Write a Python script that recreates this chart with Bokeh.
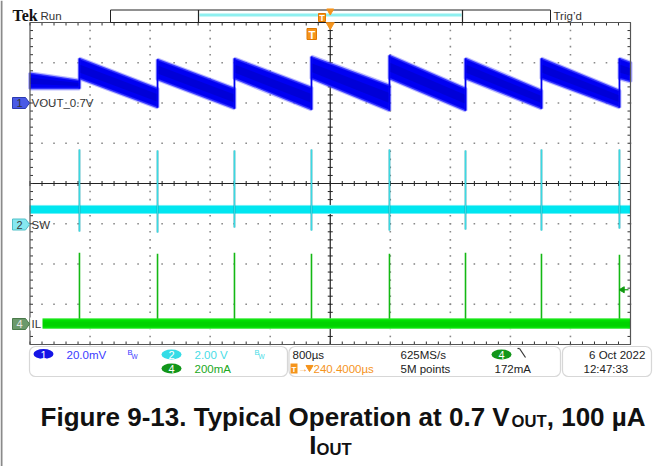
import numpy as np
from bokeh.plotting import figure
from bokeh.models import Range1d, BoxAnnotation
from bokeh.core.properties import value
from bokeh.embed import file_html
from bokeh.resources import INLINE

# ---------------- scope settings ----------------
ms_per_div = 0.8            # 800 us/div
n_xdiv, n_ydiv = 10, 8
ch1_mv_per_div, ch1_pos_div = 20.0, 6.0     # VOUT, AC view around 0.7 V
ch2_v_per_div, ch2_pos_div = 2.0, 3.0       # SW node
ch4_ma_per_div, ch4_pos_div = 200.0, 0.5    # inductor current

# ---------------- waveform readings ----------------
# instants of the switching bursts (ms from the left edge of the screen)
switch_ms = [0.659, 1.699, 2.724, 3.750, 4.789, 5.802, 6.814, 7.853]

# VOUT ripple band per ramp (mV around the 0.7 V offset), ramp i runs between bursts
vout_top_start_mv = [14.8, 22.1, 21.6, 22.1, 23.0, 23.6, 22.1, 22.1, 22.1]
vout_top_end_mv = [11.2, 7.2, 7.2, 7.7, 8.7, 7.2, 6.2, 6.2, 20.1]
vout_bot_start_mv = [7.2, 12.2, 11.7, 12.2, 12.2, 12.2, 12.2, 12.2, 12.2]
vout_bot_end_mv = [7.2, -2.2, -2.7, -3.2, -3.7, -3.7, -2.7, -2.2, 10.7]

# SW node: idle noise band and burst excursions (V)
sw_idle_v = [0.51, 0.91]
sw_peak_v = [3.69, 3.64, 3.64, 3.69, 3.69, 3.64, 3.69, 3.69]
sw_min_v = [-0.39, -0.44, -0.19, -0.34, -0.34, -0.29, -0.34, -0.24]

# inductor current: idle noise band and burst peaks (mA)
il_idle_ma = [-20.0, 28.0]
il_peak_ma = [356, 351, 356, 351, 351, 356, 351, 346]
trigger_level_ma = 172

# ---------------- screen geometry ----------------
W, H = 658, 466
gx0, gx1, gy0, gy1 = 29.5, 630.0, 22.0, 344.0
px_per_ms = (gx1 - gx0) / (n_xdiv * ms_per_div)
px_per_div = (gy1 - gy0) / n_ydiv
x_start, x_end = -gx0 / px_per_ms, (W - gx0) / px_per_ms
y_start, y_end = -(H - gy1) / px_per_div, n_ydiv + gy0 / px_per_div
t_end = n_xdiv * ms_per_div


def X(px):
    return (px - gx0) / px_per_ms


def Y(py):
    return (gy1 - py) / px_per_div


def DX(px):
    return px / px_per_ms


def DY(px):
    return px / px_per_div


p = figure(width=W, height=H, x_range=Range1d(x_start, x_end), y_range=Range1d(y_start, y_end),
           output_backend="svg", toolbar_location=None, x_axis_type=None, y_axis_type=None,
           min_border=0, outline_line_color=None, background_fill_color="white",
           border_fill_color="white")
p.grid.visible = False


def chan_range(pos, per):
    return Range1d((y_start - pos) * per, (y_end - pos) * per)


p.extra_y_ranges = {
    "ch1": chan_range(ch1_pos_div, ch1_mv_per_div),
    "ch2": chan_range(ch2_pos_div, ch2_v_per_div),
    "ch4": chan_range(ch4_pos_div, ch4_ma_per_div),
}

FONT = "Liberation Sans"


def label(px, py, s, size=11.5, color="#333333", align="left", font=FONT, style="normal",
          baseline="middle"):
    p.text(x=[X(px)], y=[Y(py)], text=[s], text_font=value(font), text_font_size=f"{size}px",
           text_color=color, text_align=align, text_baseline=baseline, text_font_style=style)


# left edge strip of the capture
p.segment(x0=[X(1)], y0=[Y(0)], x1=[X(1)], y1=[Y(H)], color="#8a8a8a", line_width=2)

# ---------------- graticule ----------------
dot_x, dot_y = [], []
for i in range(1, n_xdiv):
    if i == n_xdiv // 2:
        continue
    ys = np.arange(0, n_ydiv + 1e-6, 0.2)
    dot_x += [i * ms_per_div] * len(ys)
    dot_y += list(ys)
for j in range(1, n_ydiv):
    if j == n_ydiv // 2:
        continue
    xs = np.arange(0, t_end + 1e-6, ms_per_div / 5)
    dot_x += list(xs)
    dot_y += [j] * len(xs)
p.scatter(dot_x, dot_y, marker="square", size=1.6, color="#8a8a8a", line_color=None)

# centre cross
p.segment(x0=[0, t_end / 2], y0=[n_ydiv / 2, 0], x1=[t_end, t_end / 2], y1=[n_ydiv / 2, n_ydiv],
          color="#222222", line_width=1.2)
tx = np.arange(0, t_end + 1e-6, ms_per_div / 5)
ty = np.arange(0, n_ydiv + 1e-6, 0.2)
p.segment(x0=tx, y0=n_ydiv / 2 - DY(2.5), x1=tx, y1=n_ydiv / 2 + DY(2.5), color="#222222", line_width=1)
p.segment(x0=t_end / 2 - DX(2.5), y0=ty, x1=t_end / 2 + DX(2.5), y1=ty, color="#222222", line_width=1)
# edge ticks
p.segment(x0=tx, y0=n_ydiv, x1=tx, y1=n_ydiv - DY(3), color="#333333", line_width=1)
p.segment(x0=tx, y0=0, x1=tx, y1=DY(3), color="#333333", line_width=1)
p.segment(x0=0, y0=ty, x1=DX(3), y1=ty, color="#333333", line_width=1)
p.segment(x0=t_end, y0=ty, x1=t_end - DX(3), y1=ty, color="#333333", line_width=1)

# ---------------- CH2: SW ----------------
p.quad(left=[0], right=[t_end], bottom=[sw_idle_v[0]], top=[sw_idle_v[1]], y_range_name="ch2",
       fill_color="#00e6f0", line_color="#6ff0f6", line_width=1)
p.segment(x0=switch_ms, y0=sw_min_v, x1=switch_ms, y1=sw_peak_v, y_range_name="ch2",
          color="#22a8b6", line_width=1.8)
p.segment(x0=switch_ms, y0=sw_min_v, x1=switch_ms, y1=sw_peak_v, y_range_name="ch2",
          color="#40e8f0", line_width=0.8)

# ---------------- CH4: IL ----------------
p.quad(left=[0], right=[t_end], bottom=[il_idle_ma[0]], top=[il_idle_ma[1]], y_range_name="ch4",
       fill_color="#00e000", line_color="#55ee55", line_width=1)
p.quad(left=[0], right=[t_end], bottom=[il_idle_ma[0] * 0.5], top=[il_idle_ma[1] * 0.5],
       y_range_name="ch4", fill_color="#00c400", fill_alpha=0.5, line_color=None)
p.segment(x0=switch_ms, y0=il_idle_ma[1], x1=switch_ms, y1=il_peak_ma, y_range_name="ch4",
          color="#14b814", line_width=1.6)

# ---------------- CH1: VOUT ----------------
seg_t0 = [0.0] + switch_ms
seg_t1 = switch_ms + [t_end]
band_x = [[a, b, b, a] for a, b in zip(seg_t0, seg_t1)]
band_y = [[ts, te, be, bs] for ts, te, be, bs in
          zip(vout_top_start_mv, vout_top_end_mv, vout_bot_end_mv, vout_bot_start_mv)]
core_y = [[ts + 0.3 * (bs - ts), te + 0.3 * (be - te), be - 0.3 * (be - te), bs - 0.3 * (bs - ts)]
          for ts, te, be, bs in zip(vout_top_start_mv, vout_top_end_mv, vout_bot_end_mv, vout_bot_start_mv)]
# fuzzy halo of the noisy trace, then the band itself and its denser core
p.patches(band_x, band_y, y_range_name="ch1", fill_color=None, line_color="#6a6aff",
          line_width=4, line_alpha=0.45)
p.patches(band_x, band_y, y_range_name="ch1", fill_color="#0000f2", line_color="#3030ff",
          line_width=1.5, line_alpha=0.9)
p.patches(band_x, core_y, y_range_name="ch1", fill_color="#00009a", fill_alpha=0.3, line_color=None)
p.segment(x0=switch_ms, y0=vout_bot_end_mv[:-1], x1=switch_ms, y1=vout_top_start_mv[1:],
          y_range_name="ch1", color="#0000f2", line_width=1.8)

# graticule frame
p.quad(left=[0], right=[t_end], bottom=[0], top=[n_ydiv], fill_color=None, line_color="#555555",
       line_width=1.2)

# trigger level marker (IL)
p.segment(x0=[X(621)], y0=[trigger_level_ma], x1=[X(628)], y1=[trigger_level_ma], y_range_name="ch4",
          color="#109a10", line_width=1.2)
p.scatter(x=[X(622)], y=[trigger_level_ma], y_range_name="ch4", marker="triangle", angle=np.pi / 2,
          size=6, color="#109a10")


# ---------------- channel tags and names ----------------
def tag(py, fill, edge, txt, txt_color):
    xs = [X(12), X(25), X(29), X(25), X(12)]
    ys = [Y(py - 5.5), Y(py - 5.5), Y(py), Y(py + 5.5), Y(py + 5.5)]
    p.patch(xs, ys, fill_color=fill, line_color=edge, line_width=1)
    label(19, py, txt, size=11, color=txt_color, align="center")


tag(102.5, "#4a5ae6", "#2a3ab0", "1", "#333333")
tag(224, "#86e8f0", "#50c0c8", "2", "#3a3a3a")
tag(323.5, "#6b9a6b", "#4a7a4a", "4", "#e8e8e8")
label(31, 102.5, "VOUT_0.7V", size=11.5, color="#333333")
label(31, 224, "SW", size=11.5, color="#333333")
p.quad(left=[X(29.6)], right=[X(42)], bottom=[Y(330)], top=[Y(317)], fill_color="white", line_color=None)
label(31, 323.5, "IL", size=11.5, color="#333333")

# ---------------- header ----------------
label(12, 15, "Tek", size=16, color="#111111", font="Liberation Serif", style="bold")
label(40, 15, "Run", size=11.5, color="#333333")
p.quad(left=[X(110)], right=[X(550)], bottom=[Y(22)], top=[Y(9.5)], fill_color="white",
       line_color="#222222", line_width=1)
p.segment(x0=[X(199)], y0=[Y(14.5)], x1=[X(461)], y1=[Y(14.5)], color="#8ef0f0", line_width=3)
p.segment(x0=[X(198), X(462)], y0=[Y(9.5)] * 2, x1=[X(198), X(462)], y1=[Y(22)] * 2,
          color="#222222", line_width=1.2)
label(553, 15, "Trig\u2019d", size=11.5, color="#333333")

ORANGE = "#f5941c"
p.scatter(x=[t_end / 2], y=[Y(10.5)], marker="inverted_triangle", size=7, color=ORANGE)
p.scatter(x=[t_end / 2], y=[Y(24.5)], marker="inverted_triangle", size=8, color=ORANGE)


def tbadge(x0, x1, y0, y1, size):
    p.quad(left=[X(x0)], right=[X(x1)], bottom=[Y(y1)], top=[Y(y0)], fill_color=ORANGE,
           line_color="#e07800", line_width=1)
    label((x0 + x1) / 2, (y0 + y1) / 2 + 0.5, "T", size=size, color="white", align="center", style="bold")


tbadge(318, 325, 13, 21, 9)
tbadge(306.5, 316, 28, 39, 11)

# ---------------- readout panel ----------------
for l, r in [(29, 287), (288.5, 560), (562, 651)]:
    p.add_layout(BoxAnnotation(left=X(l), right=X(r), top=Y(346), bottom=Y(376), fill_color=None,
                               line_color="#7a7a7a", line_width=1.2, border_radius=6))


def badge(cx, cy, fill, txt):
    p.ellipse(x=[X(cx)], y=[Y(cy)], width=DX(20), height=DY(10), fill_color=fill, line_color=None)
    label(cx, cy + 0.5, txt, size=11, color="white", align="center")


badge(43, 353.5, "#1414e6", "1")
label(66, 354, "20.0mV", color="#3a3aff")
label(127, 352, "B", size=7.5, color="#3a3aff")
label(131, 356, "W", size=6.5, color="#3a3aff")
badge(171, 354, "#34dce6", "2")
label(194, 354, "2.00 V", color="#48dce6")
label(254, 352, "B", size=7.5, color="#48dce6")
label(258, 356, "W", size=6.5, color="#48dce6")
badge(171, 368, "#12961a", "4")
label(194, 368, "200mA", color="#22a822")

label(292, 354, "800\u00b5s", color="#222222")
p.quad(left=[X(290)], right=[X(297)], bottom=[Y(373)], top=[Y(363)], fill_color=ORANGE, line_color=None)
label(293.5, 368.5, "T", size=8, color="white", align="center", style="bold")
label(297.5, 368, "\u2192", size=10, color=ORANGE)
p.scatter(x=[X(309)], y=[Y(367)], marker="inverted_triangle", size=7, color=ORANGE)
label(313, 368, "240.4000\u00b5s", color=ORANGE)
label(400, 354, "625MS/s", color="#222222")
label(400, 368, "5M points", color="#222222")
badge(501, 354, "#12961a", "4")
p.segment(x0=[X(517), X(519)], y0=[Y(348), Y(348)], x1=[X(519), X(525)], y1=[Y(348), Y(357)],
          color="#333333", line_width=1.2)
label(494, 368, "172mA", color="#222222")
label(648, 354, "6 Oct  2022", color="#222222", align="right")
label(583, 368, "12:47:33", color="#222222")

# ---------------- caption ----------------
F = 26.0
SUB = 0.64 * F
main1 = "Figure 9-13. Typical Operation at 0.7 V"
main1_em = 18.118
sub_em = 2.111 * 0.64
rest1 = ", 100 \u00b5A"
rest1_em = 3.835
total = (main1_em + rest1_em) * F + sub_em * F
cx = 343.0
x0 = cx - total / 2
base1 = 416.0
label(x0, base1, main1, size=F, color="#111111", style="bold", baseline="alphabetic")
label(x0 + main1_em * F, base1 + 5, "OUT", size=SUB, color="#111111", style="bold", baseline="alphabetic")
label(x0 + main1_em * F + sub_em * F, base1, rest1, size=F, color="#111111", style="bold",
      baseline="alphabetic")
line2 = (0.278 + sub_em) * F
x2 = 330 - line2 / 2
base2 = 444.0
label(x2, base2, "I", size=F, color="#111111", style="bold", baseline="alphabetic")
label(x2 + 0.278 * F, base2 + 5, "OUT", size=SUB, color="#111111", style="bold", baseline="alphabetic")

open("out.html", "w").write(file_html(p, INLINE))
